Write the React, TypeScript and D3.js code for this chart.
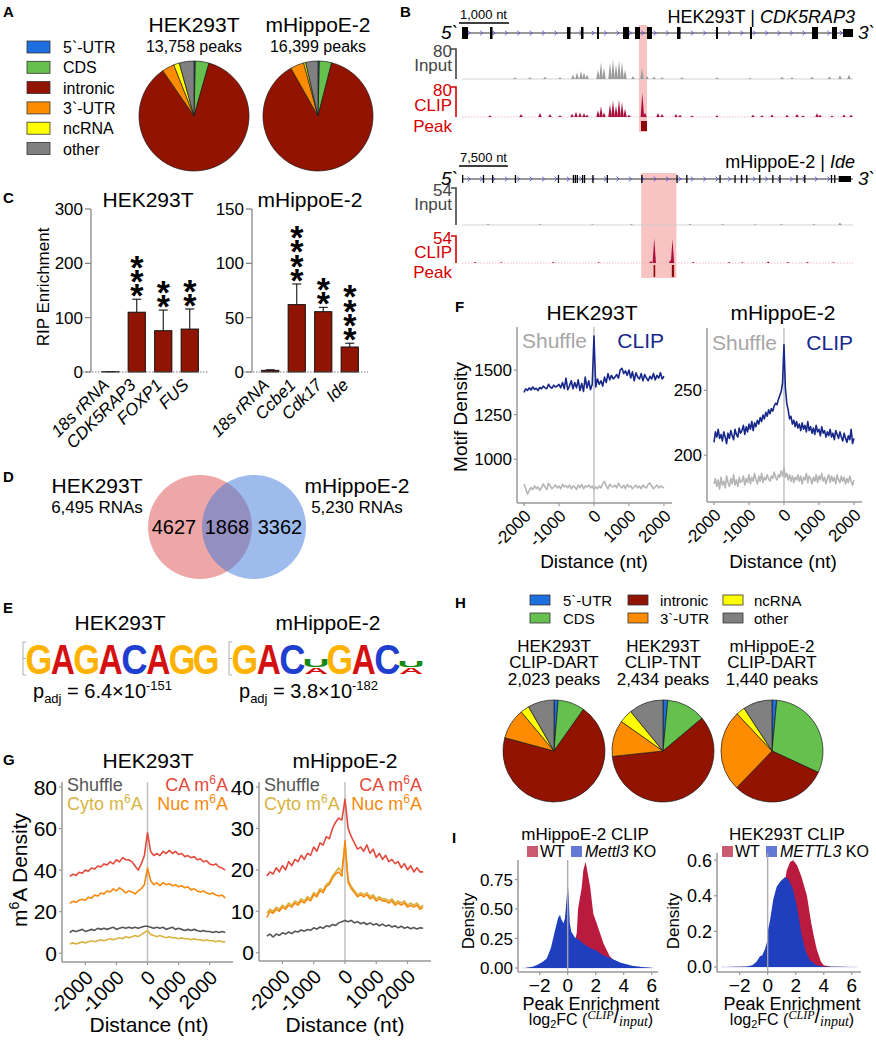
import React from "react";
import * as d3 from "d3";

const FF = "'Liberation Sans', Arial, Helvetica, sans-serif";
const SERIF = "'Liberation Serif', 'DejaVu Serif', serif";

// ---------------- Panel A / H : genomic regions ----------------
const regionNames = ["5`-UTR", "CDS", "intronic", "3`-UTR", "ncRNA", "other"];
const regionColors = ["#1d6fe0", "#66c04e", "#921300", "#ff8c00", "#ffff00", "#808080"];
const pieATitles = ["HEK293T", "mHippoE-2"];
const pieAPeaks = ["13,758 peaks", "16,399 peaks"];
const pieAHEK = [0.4, 4.0, 86.0, 3.6, 1.7, 4.3];
const pieAMHippo = [0.4, 3.6, 87.8, 4.0, 0.6, 3.6];

const pieHTitles1 = ["HEK293T", "HEK293T", "mHippoE-2"];
const pieHTitles2 = ["CLIP-DART", "CLIP-TNT", "CLIP-DART"];
const pieHPeaks = ["2,023 peaks", "2,434 peaks", "1,440 peaks"];
const pieHDartHEK = [1.3, 8.5, 69.4, 9.7, 2.8, 8.3];
const pieHTntHEK = [1.5, 12.4, 59.4, 11.5, 4.3, 10.9];
const pieHDartMH = [1.5, 30.4, 30.3, 25.8, 2.8, 9.2];

// ---------------- Panel B : genome tracks ----------------
const b1Cell = "HEK293T";
const b1Gene = "CDK5RAP3";
const b1Len = 7820;
const b1ScaleNt = 1000;
const b1ScaleLabel = "1,000 nt";
const b1Max = 80;
const b1Exons = [[0, 120, 12], [560, 50, 12], [2100, 70, 12], [2380, 50, 12], [2700, 40, 12], [3220, 120, 12], [3460, 100, 12], [3700, 100, 12], [4300, 70, 12], [5080, 40, 12], [5760, 40, 12], [7000, 120, 12], [7400, 100, 12], [7620, 200, 8]];
const b1Input = [[1060, 4], [1360, 5], [1660, 6], [1960, 5], [2220, 12], [2300, 18], [2380, 22], [2440, 18], [2500, 12], [2720, 25], [2780, 45], [2840, 30], [2960, 44], [3020, 52], [3080, 40], [3140, 50], [3200, 46], [3260, 25], [3420, 8], [3600, 29], [3700, 8], [3840, 6], [4000, 5], [4400, 5], [5100, 4], [5760, 3], [6400, 6], [6600, 5], [7000, 6], [7350, 7], [7560, 10], [7740, 12]];
const b1Clip = [[560, 5], [1180, 8], [1560, 11], [1760, 8], [1960, 5], [2200, 9], [2280, 14], [2360, 12], [2440, 10], [2500, 6], [2720, 18], [2780, 29], [2840, 12], [2960, 35], [3020, 44], [3080, 30], [3140, 47], [3200, 40], [3260, 22], [3340, 6], [3607, 65], [3660, 12], [3920, 11], [4000, 8], [4280, 8], [4360, 6], [4600, 4], [5100, 5], [5820, 6], [6000, 5], [6200, 7], [6500, 6], [6700, 8], [6820, 5], [7100, 10], [7160, 6], [7400, 4], [7640, 7], [7780, 6]];
const b1Peaks = [[3580, 120]];
const b1Highlight = [3540, 3700];

const b2Cell = "mHippoE-2";
const b2Gene = "Ide";
const b2Len = 60000;
const b2ScaleNt = 7500;
const b2ScaleLabel = "7,500 nt";
const b2Max = 54;
const b2Exons = [[0, 150, 8], [3200, 150, 8], [4600, 150, 8], [8100, 150, 8], [14700, 150, 8], [17000, 150, 8], [17300, 150, 8], [17600, 150, 8], [18400, 150, 8], [18700, 150, 8], [20000, 150, 8], [22200, 150, 8], [27500, 150, 8], [32900, 150, 8], [34400, 150, 8], [39500, 150, 8], [41800, 150, 8], [42800, 150, 8], [43600, 150, 8], [45600, 150, 8], [47600, 150, 8], [48700, 150, 8], [51300, 150, 8], [52500, 150, 8], [56600, 150, 8], [57100, 150, 8], [57800, 1900, 6]];
const b2Input = [[4000, 1.5], [12000, 1.5], [20000, 1.2], [26000, 1.5], [35000, 1.8], [40000, 1.5], [45000, 1.2], [49000, 1.5], [54000, 1.5], [58000, 3.5]];
const b2Clip = [[2000, 2], [6000, 1.5], [14000, 2], [21000, 1.5], [29000, 4], [29500, 50], [32000, 6], [32300, 48], [35500, 2], [41000, 2], [43000, 1.5], [47000, 3], [50000, 2], [53000, 2], [57000, 1.5]];
const b2Peaks = [[29400, 250], [32200, 350]];
const b2Highlight = [27500, 32900];

// ---------------- Panel C : RIP enrichment ----------------
const ripHEKGenes = ["18s rRNA", "CDK5RAP3", "FOXP1", "FUS"];
const ripHEKMean = [0.5, 110, 76, 79];
const ripHEKSd = [0.3, 24, 38, 37];
const ripHEKStars = [0, 3, 2, 2];
const ripHEKTicks = [0, 100, 200, 300];
const ripMHGenes = ["18s rRNA", "Ccbe1", "Cdk17", "Ide"];
const ripMHMean = [1.5, 62, 55.5, 23];
const ripMHSd = [0.5, 19, 4, 3.5];
const ripMHStars = [0, 4, 2, 4];
const ripMHTicks = [0, 50, 100, 150];

// ---------------- Panel D : Venn ----------------
const vennCells = ["HEK293T", "mHippoE-2"];
const vennTotals = ["6,495 RNAs", "5,230 RNAs"];
const vennCounts = [4627, 1868, 3362];

// ---------------- Panel E : motif logos ----------------
const logoHEK = [[["G", 2]], [["A", 2]], [["G", 2]], [["A", 2]], [["C", 2]], [["A", 2]], [["G", 2]], [["G", 2]]];
const logoMH = [[["G", 2]], [["A", 2]], [["C", 2]], [["A", 0.45], ["U", 0.55]], [["G", 2]], [["A", 2]], [["C", 2]], [["A", 0.45], ["U", 0.38]]];
const nucColors = { G: "#ffb300", A: "#d41010", C: "#1f3fd1", U: "#138a13" };
const padjHEK = ["6.4", "-151"];
const padjMH = ["3.8", "-182"];

// ---------------- Panel F : motif density ----------------
const fHEKDist = d3.range(-2000, 2001, 50);
const fHEKClip = [1375, 1395, 1385, 1400, 1388, 1405, 1392, 1398, 1385, 1402,
  1395, 1410, 1400, 1395, 1420, 1405, 1398, 1415, 1405, 1410,
  1420, 1400, 1430, 1395, 1455, 1390, 1410, 1440, 1395, 1430,
  1400, 1445, 1385, 1425, 1380, 1460, 1400, 1440, 1390, 1420,
  1690,
  1405, 1450, 1420, 1440, 1410, 1460, 1430, 1480, 1445, 1470,
  1450, 1460, 1475, 1455, 1500, 1510, 1480, 1495, 1470, 1500,
  1455, 1490, 1440, 1485, 1460, 1450, 1480, 1440, 1475, 1455,
  1440, 1465, 1450, 1480, 1445, 1470, 1455, 1485, 1450, 1465];
const fHEKShuffle = [860, 835, 805, 825, 842, 830, 850, 836, 845, 826,
  840, 862, 845, 830, 866, 850, 835, 845, 856, 840,
  850, 835, 860, 845, 852, 840, 855, 835, 850, 845,
  830, 856, 840, 860, 835, 850, 845, 856, 840, 850,
  832,
  845, 835, 850, 840, 862, 876, 850, 835, 860, 848,
  845, 855, 840, 866, 850, 840, 855, 835, 860, 845,
  850, 835, 845, 855, 840, 850, 835, 855, 845, 840,
  860, 868, 850, 835, 845, 855, 840, 850, 845, 838];
const fMHDist = d3.range(-2000, 2001, 40);
const fMHClip = [210, 218, 214, 220, 213, 216, 211, 218, 214, 209, 217, 213, 219, 215, 212, 220, 216, 214, 221, 217,
  219, 223, 216, 222, 218, 224, 220, 226, 219, 225,
  222, 227, 224, 229, 226, 231, 228, 233, 230, 235,
  232, 236, 234, 238, 240, 239, 243, 246, 249, 256,
  285,
  252, 240, 235, 228, 230, 224, 227, 222, 226, 221,
  224, 219, 225, 220, 223, 218, 226, 219, 222, 217,
  221, 216, 223, 218, 220, 215, 222, 217, 219, 214,
  218, 215, 220, 214, 217, 212, 219, 216, 213, 218,
  214, 211, 217, 213, 210, 215, 212, 220, 209, 213];
const fMHShuffle = [178, 182, 176, 181, 174, 183, 177, 180, 175, 184, 179, 176, 182, 178, 185, 177, 181, 176, 183, 179,
  180, 184, 177, 182, 179, 185, 178, 183, 180, 186,
  181, 178, 184, 180, 186, 179, 183, 181, 185, 182,
  180, 184, 182, 187, 183, 181, 185, 183, 188, 184,
  190,
  183, 186, 181, 185, 180, 184, 179, 183, 181, 185,
  180, 184, 178, 183, 181, 186, 179, 184, 182, 178,
  183, 180, 185, 179, 184, 181, 186, 180, 183, 178,
  182, 185, 179, 184, 180, 183, 178, 185, 181, 179,
  184, 180, 183, 178, 182, 179, 184, 180, 177, 181];
const fTicks = [-2000, -1000, 0, 1000, 2000];

// ---------------- Panel G : m6A density ----------------
const gDist = d3.range(-2500, 2501, 100);
const gHEKCA = [37, 38, 37.5, 39, 38.5, 40, 39.5, 41, 40.5, 42, 41.5, 43, 42.5, 44, 43, 45, 44, 46, 45, 45, 44, 42, 40, 43, 47,
  58,
  49, 47, 48, 47, 49, 48, 49.5, 48, 49, 47.5, 48, 46.5, 47, 46, 46.5, 45, 45.5, 44, 44.5, 43, 42.5, 43, 41.5, 41, 40];
const gHEKNuc = [24, 25, 24.5, 25.5, 26, 25.5, 27, 26.5, 28, 27.5, 29, 28.5, 30, 29.5, 31, 30, 31.5, 30.5, 29, 30, 29.5, 28.5, 30, 31, 33,
  41,
  35, 33, 34, 32.5, 34, 33, 33.5, 32.5, 33, 32, 32.5, 31.5, 32, 30.5, 31, 30, 29.5, 30, 29, 28.5, 29, 28, 27.5, 28, 26.5];
const gHEKShuffle = [10, 11, 10.5, 11, 11.5, 10.5, 11, 11.5, 11, 12, 11.5, 12, 11.5, 12, 12.5, 11.5, 12, 12.5, 12, 12.5, 12, 12.5, 12, 12.5, 13,
  13,
  12.5, 12, 12.5, 12, 12.5, 11.5, 12, 12.5, 11.5, 12, 11.5, 11, 11.5, 11, 11.5, 11, 10.5, 11, 10.5, 10.5, 10, 10.5, 10, 10.5, 10];
const gHEKCyto = [4.5, 5, 4.5, 5, 5.5, 5, 5.5, 6, 5.5, 6, 6.5, 6, 6.5, 7, 6.5, 7, 7.5, 7, 8, 7.5, 8, 8.5, 8, 9, 10,
  11,
  9, 8.5, 8, 8.5, 8, 7.5, 8, 7.5, 7.5, 7, 7.5, 7, 7, 6.5, 7, 6.5, 6.5, 6, 6.5, 6, 6, 5.5, 6, 5.5, 5.5];
const gMHCA = [18.5, 19.5, 19, 20.5, 19.5, 21, 20, 22, 21, 22.5, 22, 23.5, 22.5, 24, 23.5, 25.5, 24.5, 26.5, 26, 28, 27.5, 30, 31.5, 32.5, 32,
  37,
  30, 28, 26.5, 25, 25.5, 24.5, 26, 24, 25, 23, 24, 22.5, 23.5, 22, 22.5, 21.5, 22, 20.5, 21.5, 20, 21, 19.5, 20.5, 19.5, 19.5];
const gMHNuc = [8.5, 10, 9.5, 10.5, 10, 11, 10.5, 11.5, 11, 12, 11.5, 12.5, 12, 13, 12.5, 14, 13.5, 15, 14.5, 16, 16.5, 18, 19, 19.5, 18.5,
  27,
  17, 15.5, 14.5, 13.5, 14, 13.5, 14, 13, 13.5, 12.5, 13, 12.5, 12.5, 12, 12.5, 11.5, 12, 11.5, 12, 11, 11.5, 11, 11.5, 10.5, 11];
const gMHCyto = [9.5, 10.5, 10, 11, 10.5, 11.5, 11, 12, 11.5, 12.5, 12, 13, 12.5, 13.5, 13, 14.5, 14, 15.5, 15, 16.5, 17, 18.5, 19.5, 20.5, 19.5,
  26,
  17.5, 16, 15, 14, 14.5, 14, 14.5, 13.5, 14, 13, 13.5, 13, 13, 12.5, 13, 12, 12.5, 12, 12.5, 11.5, 12, 11.5, 12, 11, 11.5];
const gMHShuffle = [4, 4.5, 3.8, 4.5, 4.2, 4.8, 4.5, 5, 4.6, 5.2, 5, 5.5, 5.2, 5.6, 5.4, 6, 5.7, 6.2, 5.9, 6.5, 6.3, 6.8, 6.6, 7.2, 7.5,
  7.8,
  7.5, 7.8, 7.2, 7.5, 7, 7.3, 6.8, 7.2, 6.7, 7, 6.5, 6.9, 6.4, 6.7, 6.2, 6.5, 6, 6.4, 5.9, 6.2, 5.8, 6.1, 5.7, 6, 5.9];
const gTicks = [-2000, -1000, 0, 1000, 2000];
const gColors = { CA: "#e34a3b", Nuc: "#f5890d", Cyto: "#d8b443", Shuffle: "#555555" };

// ---------------- Panel I : peak enrichment densities ----------------
const iLKOx = [-3, -2.5, -2.2, -1.8, -1.5, -1.2, -1.0, -0.8, -0.67, -0.55, -0.45, -0.3, -0.2, -0.1, 0, 0.07, 0.15, 0.25, 0.5, 0.8, 1.2, 1.6, 2.0, 2.5, 3.2, 3.8, 4.6, 5.3, 6.0];
const iLKOy = [0.003, 0.01, 0.025, 0.05, 0.08, 0.17, 0.27, 0.37, 0.43, 0.45, 0.41, 0.38, 0.42, 0.55, 0.72, 0.6, 0.38, 0.31, 0.26, 0.24, 0.2, 0.17, 0.15, 0.11, 0.077, 0.045, 0.02, 0.008, 0.002];
const iLWTx = [-3, -1, 0, 0.4, 0.65, 0.74, 0.88, 1.0, 1.12, 1.28, 1.4, 1.6, 1.83, 2.07, 2.55, 3.0, 3.5, 4.0, 5.0, 6.0];
const iLWTy = [0, 0.005, 0.05, 0.15, 0.3, 0.5, 0.6, 0.68, 0.83, 0.9, 0.82, 0.69, 0.46, 0.38, 0.21, 0.1, 0.04, 0.015, 0.003, 0];
const iRKOx = [-3, -1.5, -1.1, -0.8, -0.55, -0.4, -0.2, -0.05, 0, 0.16, 0.4, 0.64, 0.9, 1.24, 1.5, 1.8, 2.0, 2.2, 2.4, 2.7, 3.0, 3.5, 4.0, 6.0];
const iRKOy = [0, 0.003, 0.01, 0.03, 0.06, 0.065, 0.1, 0.14, 0.2, 0.26, 0.38, 0.45, 0.48, 0.505, 0.49, 0.44, 0.37, 0.29, 0.19, 0.09, 0.04, 0.01, 0.003, 0];
const iRWTx = [-3, -1, 0, 0.5, 1.0, 1.35, 1.6, 1.83, 2.1, 2.4, 2.8, 3.1, 3.3, 3.5, 3.8, 4.0, 4.5, 6.0];
const iRWTy = [0, 0.002, 0.01, 0.08, 0.35, 0.54, 0.59, 0.6, 0.57, 0.51, 0.4, 0.25, 0.17, 0.1, 0.03, 0.01, 0.002, 0];
const iTicks = [-2, 0, 2, 4, 6];
const iColors = { WT: "#bb1a3f", KO: "#1f3fbf", WTkey: "#c95a70", KOkey: "#6479d4" };

// ======================================================================
const PL = ({ x, y, t }) => (
  <text x={x} y={y} fontSize={15} fontWeight="bold">{t}</text>
);

function Pie({ cx, cy, r, values }) {
  const arcs = d3.pie().sort(null).value((d) => d)(values);
  const arc = d3.arc().innerRadius(0).outerRadius(r);
  return (
    <g transform={`translate(${cx},${cy})`}>
      {arcs.map((a, i) => (
        <path key={i} d={arc(a)} fill={regionColors[i]} stroke="#1a1a1a" strokeWidth={0.7} strokeLinejoin="round" />
      ))}
    </g>
  );
}

function PanelA() {
  const vals = [pieAHEK, pieAMHippo];
  const cxs = [194, 318];
  return (
    <g>
      <PL x={3} y={17} t="A" />
      {regionNames.map((n, i) => {
        const cy = 47 + i * 20.3;
        return (
          <g key={n}>
            <rect x={27} y={cy - 6} width={23} height={12} fill={regionColors[i]} stroke="#333" strokeWidth={0.8} />
            <text x={63} y={cy + 6} fontSize={16}>{n}</text>
          </g>
        );
      })}
      {vals.map((v, i) => (
        <g key={i}>
          <text x={cxs[i]} y={32} fontSize={21} textAnchor="middle">{pieATitles[i]}</text>
          <text x={cxs[i]} y={52} fontSize={16} textAnchor="middle">{pieAPeaks[i]}</text>
          <Pie cx={cxs[i]} cy={116} r={55} values={v} />
        </g>
      ))}
    </g>
  );
}

function GeneTrack({ len, scaleNt, scaleLabel, cell, gene, maxVal, exons, inputB, clipB, peaks, highlight, hw, L }) {
  const x = d3.scaleLinear().domain([0, len]).range([462, 853]);
  const yIn = d3.scaleLinear().domain([0, maxVal]).range([L.inBot, L.inTop]);
  const yCl = d3.scaleLinear().domain([0, maxVal]).range([L.clBot, L.clTop]);
  const bump = (b, ys) =>
    d3.area().x((d) => x(d[0])).y0(ys(0)).y1((d) => ys(d[1]))([[b[0] - hw, 0], [b[0], b[1]], [b[0] + hw, 0]]);
  const chev = d3.range(469, 850, 12.4);
  const gy = L.geneY;
  return (
    <g>
      <rect x={x(highlight[0])} y={L.hlTop} width={x(highlight[1]) - x(highlight[0])} height={L.hlBot - L.hlTop} fill="#f8c3c3" />
      <line x1={459} x2={459 + x(scaleNt) - x(0)} y1={L.scaleY} y2={L.scaleY} stroke="#000" strokeWidth={1.5} />
      <text x={460} y={L.scaleY - 4} fontSize={13}>{scaleLabel}</text>
      <text x={855} y={L.titleY} textAnchor="end" fontSize={18}>
        {cell} | <tspan fontStyle="italic">{gene}</tspan>
      </text>
      <text x={458} y={gy + 6} textAnchor="end" fontSize={19} fontStyle="italic">5`</text>
      <text x={858} y={gy + 6} fontSize={19} fontStyle="italic">3`</text>
      <line x1={462} x2={853} y1={gy} y2={gy} stroke="#333" strokeWidth={1.1} />
      {chev.map((c, i) => (
        <path key={i} d={`M${c - 1.3},${gy - 2.3}L${c + 1.3},${gy}L${c - 1.3},${gy + 2.3}`} fill="none" stroke="#4f4ff0" strokeWidth={0.9} />
      ))}
      {exons.map((e, i) => (
        <rect key={i} x={x(e[0])} y={gy - e[2] / 2} width={Math.max(1.3, x(e[0] + e[1]) - x(e[0]))} height={e[2]} fill="#000" />
      ))}
      <text x={452} y={L.lab[0]} textAnchor="end" fontSize={17} fill="#444">{maxVal}</text>
      <text x={452} y={L.lab[1]} textAnchor="end" fontSize={17} fill="#444">Input</text>
      <path d={`M451,${L.inTop}H456V${L.inBot}`} fill="none" stroke="#444" strokeWidth={1.6} />
      <line x1={462} x2={853} y1={L.inBot} y2={L.inBot} stroke="#c8c8c8" strokeWidth={0.8} />
      {inputB.map((b, i) => <path key={i} d={bump(b, yIn)} fill="#9b9b9b" />)}
      <text x={452} y={L.lab[2]} textAnchor="end" fontSize={17} fill="#d40000">{maxVal}</text>
      <text x={452} y={L.lab[3]} textAnchor="end" fontSize={17} fill="#d40000">CLIP</text>
      <text x={452} y={L.lab[4]} textAnchor="end" fontSize={17} fill="#d40000">Peak</text>
      <path d={`M451,${L.clTop}H456V${L.clBot}`} fill="none" stroke="#d40000" strokeWidth={1.6} />
      <line x1={462} x2={853} y1={L.clBot} y2={L.clBot} stroke="#e8a8b8" strokeWidth={0.8} strokeDasharray="1.5,1.5" />
      {clipB.map((b, i) => <path key={i} d={bump(b, yCl)} fill="#a8103e" />)}
      {peaks.map((p, i) => (
        <rect key={i} x={x(p[0])} y={L.pkTop} width={Math.max(1.2, x(p[0] + p[1]) - x(p[0]))} height={L.pkBot - L.pkTop} fill="#8e0a0a" />
      ))}
    </g>
  );
}

function PanelB() {
  const L1 = { scaleY: 23, titleY: 23, geneY: 33, inTop: 49, inBot: 79, clTop: 87, clBot: 117, pkTop: 121, pkBot: 131, hlTop: 25, hlBot: 132, lab: [57, 71, 96, 111, 132] };
  const L2 = { scaleY: 166, titleY: 168, geneY: 179, inTop: 188, inBot: 225, clTop: 236, clBot: 263, pkTop: 265, pkBot: 277, hlTop: 173, hlBot: 278, lab: [196, 210, 244, 258, 278] };
  return (
    <g>
      <PL x={400} y={17} t="B" />
      <GeneTrack len={b1Len} scaleNt={b1ScaleNt} scaleLabel={b1ScaleLabel} cell={b1Cell} gene={b1Gene} maxVal={b1Max}
        exons={b1Exons} inputB={b1Input} clipB={b1Clip} peaks={b1Peaks} highlight={b1Highlight} hw={35} L={L1} />
      <GeneTrack len={b2Len} scaleNt={b2ScaleNt} scaleLabel={b2ScaleLabel} cell={b2Cell} gene={b2Gene} maxVal={b2Max}
        exons={b2Exons} inputB={b2Input} clipB={b2Clip} peaks={b2Peaks} highlight={b2Highlight} hw={260} L={L2} />
    </g>
  );
}

function BarChart({ genes, means, sds, stars, ticks, axisX, xRange, title, titleX }) {
  const y = d3.scaleLinear().domain([0, ticks[ticks.length - 1]]).range([372, 209]);
  const x = d3.scaleBand().domain(genes).range(xRange).paddingInner(0.35).paddingOuter(0.175);
  const bw = x.bandwidth();
  return (
    <g>
      <text x={titleX} y={207} fontSize={21} textAnchor="middle">{title}</text>
      <line x1={axisX} x2={axisX} y1={y(ticks[ticks.length - 1])} y2={y(0)} stroke="#888" strokeWidth={1.3} />
      {ticks.map((t) => (
        <g key={t}>
          <line x1={axisX - 6} x2={axisX} y1={y(t)} y2={y(t)} stroke="#888" strokeWidth={1.3} />
          <text x={axisX - 8} y={y(t) + 6} fontSize={17} textAnchor="end">{t}</text>
        </g>
      ))}
      {genes.map((g, i) => {
        const cx = x(g) + bw / 2;
        const top = y(means[i] + sds[i]);
        return (
          <g key={g}>
            <rect x={x(g)} y={y(means[i])} width={bw} height={y(0) - y(means[i])} fill="#8f1402" stroke="#111" strokeWidth={1} />
            <line x1={cx} x2={cx} y1={y(means[i])} y2={top} stroke="#111" strokeWidth={1.1} />
            <line x1={cx - 4.5} x2={cx + 4.5} y1={top} y2={top} stroke="#111" strokeWidth={1.1} />
            {d3.range(stars[i]).map((k) => (
              <text key={k} x={cx} y={top - 11 - k * 14.3 + 19} fontSize={34} fontWeight="bold" textAnchor="middle">*</text>
            ))}
            <text transform={`translate(${cx},${386}) rotate(-45)`} fontSize={17} fontStyle="italic" textAnchor="end">{g}</text>
          </g>
        );
      })}
      <line x1={axisX - 8} x2={xRange[1] + 5} y1={y(0)} y2={y(0)} stroke="#777" strokeWidth={1} strokeDasharray="1.5,1.5" />
    </g>
  );
}

function PanelC() {
  return (
    <g>
      <PL x={3} y={203} t="C" />
      <text transform="translate(49,287) rotate(-90)" fontSize={17} textAnchor="middle">RIP Enrichment</text>
      <BarChart genes={ripHEKGenes} means={ripHEKMean} sds={ripHEKSd} stars={ripHEKStars} ticks={ripHEKTicks} axisX={91} xRange={[97, 203]} title="HEK293T" titleX={148} />
      <BarChart genes={ripMHGenes} means={ripMHMean} sds={ripMHSd} stars={ripMHStars} ticks={ripMHTicks} axisX={252} xRange={[257, 363]} title="mHippoE-2" titleX={310} />
    </g>
  );
}

function PanelD() {
  return (
    <g>
      <PL x={3} y={482} t="D" />
      <circle cx={200} cy={527} r={52} fill="rgba(220,80,80,0.5)" />
      <circle cx={254} cy={527} r={52} fill="rgba(60,120,220,0.5)" />
      <text x={97} y={493} fontSize={21} textAnchor="middle">{vennCells[0]}</text>
      <text x={97} y={513} fontSize={17} textAnchor="middle">{vennTotals[0]}</text>
      <text x={357} y={493} fontSize={21} textAnchor="middle">{vennCells[1]}</text>
      <text x={357} y={513} fontSize={17} textAnchor="middle">{vennTotals[1]}</text>
      {vennCounts.map((c, i) => (
        <text key={i} x={[174, 227, 280][i]} y={534} fontSize={20} textAnchor="middle">{c}</text>
      ))}
    </g>
  );
}

const glyphW = { G: 68, A: 70, C: 64, U: 62 };
function Logo({ cols, x0, x1, yBot, hFull }) {
  const x = d3.scaleBand().domain(d3.range(cols.length)).range([x0, x1]);
  const h = d3.scaleLinear().domain([0, 2]).range([0, hFull]);
  const cw = x.bandwidth();
  return (
    <g>
      <path d={`M${x0 - 1},${yBot - hFull - 1}h-3V${yBot + 1}h3M${x0 - 4},${yBot - hFull / 2}h3`} fill="none" stroke="#999" strokeWidth={0.8} />
      {cols.map((col, i) => {
        let base = yBot;
        return col.map((c, j) => {
          const hh = h(c[1]);
          const yb = base;
          base -= hh;
          const sx = (cw - 0.5) / glyphW[c[0]];
          const sy = hh / 72;
          return (
            <g key={i + "-" + j} transform={`translate(${x(i) + cw / 2},${yb}) scale(${sx},${sy})`}>
              <text x={0} y={0} fontSize={100} fontWeight="bold" textAnchor="middle" fill={nucColors[c[0]]}>{c[0]}</text>
            </g>
          );
        });
      })}
    </g>
  );
}

function Padj({ x, v }) {
  return (
    <text x={x} y={698} fontSize={20}>
      p<tspan fontSize={13} dy={5}>adj</tspan>
      <tspan dy={-5}> = {v[0]}×10</tspan>
      <tspan fontSize={13} dy={-8}>{v[1]}</tspan>
    </text>
  );
}

function PanelE() {
  return (
    <g>
      <PL x={3} y={613} t="E" />
      <text x={120} y={630} fontSize={21} textAnchor="middle">HEK293T</text>
      <text x={328} y={630} fontSize={21} textAnchor="middle">mHippoE-2</text>
      <Logo cols={logoHEK} x0={27} x1={218} yBot={674} hFull={31} />
      <Logo cols={logoMH} x0={233} x1={423} yBot={674} hFull={31} />
      <Padj x={33} v={padjHEK} />
      <Padj x={239} v={padjMH} />
    </g>
  );
}

function Axes({ x, y, xTicks, yTicks, yFs, xl, color = "#999" }) {
  const [x0, x1] = x.range();
  const [y0, y1] = y.range();
  return (
    <g>
      <line x1={x0} x2={x0} y1={y1} y2={y0} stroke={color} strokeWidth={1.5} />
      <line x1={x0} x2={x1} y1={y0} y2={y0} stroke={color} strokeWidth={1.5} />
      {yTicks.map((t) => (
        <g key={t}>
          <line x1={x0 - 3} x2={x0} y1={y(t)} y2={y(t)} stroke={color} strokeWidth={1.2} />
          <text x={x0 - 5} y={y(t) + yFs * 0.36} fontSize={yFs} textAnchor="end">{xl.yfmt ? xl.yfmt(t) : t}</text>
        </g>
      ))}
      {xTicks.map((t) => (
        <g key={t}>
          <line x1={x(t)} x2={x(t)} y1={y0} y2={y0 + 3} stroke={color} strokeWidth={1.2} />
          {xl.rot ? (
            <text transform={`translate(${x(t) + xl.dx},${y0 + xl.dy}) rotate(-45)`} fontSize={xl.fs} textAnchor="end">{t}</text>
          ) : (
            <text x={x(t)} y={y0 + xl.dy} fontSize={xl.fs} textAnchor="middle">{xl.fmt(t)}</text>
          )}
        </g>
      ))}
    </g>
  );
}

function LinePlot({ xDom, xR, yDom, yR, yTicks, xTicks, yFs, xl, series }) {
  const x = d3.scaleLinear().domain(xDom).range(xR);
  const y = d3.scaleLinear().domain(yDom).range(yR);
  return (
    <g>
      <line x1={x(0)} x2={x(0)} y1={yR[1]} y2={yR[0]} stroke="#bdbdbd" strokeWidth={1.4} />
      {series.map((s, i) => (
        <path key={i} d={d3.line().x((d) => x(d[0])).y((d) => y(d[1]))(s.v.map((v, k) => [s.d[k], v]))} fill="none" stroke={s.c} strokeWidth={1.6} strokeLinejoin="round" />
      ))}
      <Axes x={x} y={y} xTicks={xTicks} yTicks={yTicks} yFs={yFs} xl={xl} />
    </g>
  );
}

function PanelF() {
  const xl = { rot: true, dx: 8, dy: 14, fs: 17 };
  return (
    <g>
      <PL x={455} y={312} t="F" />
      <text x={592} y={320} fontSize={21} textAnchor="middle">HEK293T</text>
      <text x={783} y={320} fontSize={21} textAnchor="middle">mHippoE-2</text>
      <text transform="translate(467,417) rotate(-90)" fontSize={19} textAnchor="middle">Motif Density</text>
      <LinePlot xDom={[-2200, 2230]} xR={[517, 672]} yDom={[755, 1741]} yR={[503, 327]} yTicks={[1000, 1250, 1500]} xTicks={fTicks} yFs={17} xl={xl}
        series={[{ d: fHEKDist, v: fHEKShuffle, c: "#b5b5b5" }, { d: fHEKDist, v: fHEKClip, c: "#17288a" }]} />
      <LinePlot xDom={[-2200, 2230]} xR={[707, 862]} yDom={[164, 298]} yR={[502, 328]} yTicks={[200, 250]} xTicks={fTicks} yFs={17} xl={xl}
        series={[{ d: fMHDist, v: fMHShuffle, c: "#b5b5b5" }, { d: fMHDist, v: fMHClip, c: "#17288a" }]} />
      <text x={522} y={348} fontSize={21} fill="#a6a6a6">Shuffle</text>
      <text x={664} y={348} fontSize={21} fill="#17288a" textAnchor="end">CLIP</text>
      <text x={712} y={350} fontSize={21} fill="#a6a6a6">Shuffle</text>
      <text x={853} y={350} fontSize={21} fill="#17288a" textAnchor="end">CLIP</text>
      <text x={594} y={568} fontSize={19} textAnchor="middle">Distance (nt)</text>
      <text x={783} y={568} fontSize={19} textAnchor="middle">Distance (nt)</text>
    </g>
  );
}

const M6A = ({ pre }) => (
  <>
    {pre}m<tspan fontSize={12} dy={-7}>6</tspan><tspan dy={7}>A</tspan>
  </>
);

function GLegend({ xl, xr }) {
  return (
    <g fontSize={18}>
      <text x={xl} y={791} fill={gColors.Shuffle}>Shuffle</text>
      <text x={xr} y={791} fill={gColors.CA} textAnchor="end"><M6A pre="CA " /></text>
      <text x={xl} y={810} fill={gColors.Cyto}><M6A pre="Cyto " /></text>
      <text x={xr} y={810} fill={gColors.Nuc} textAnchor="end"><M6A pre="Nuc " /></text>
    </g>
  );
}

function PanelG() {
  const xl = { rot: true, dx: 9, dy: 17, fs: 20 };
  const mk = (sh, cy, nu, ca) => [
    { d: gDist, v: sh, c: gColors.Shuffle },
    { d: gDist, v: cy, c: gColors.Cyto },
    { d: gDist, v: nu, c: gColors.Nuc },
    { d: gDist, v: ca, c: gColors.CA },
  ];
  return (
    <g>
      <PL x={3} y={765} t="G" />
      <text x={148} y={768} fontSize={21} textAnchor="middle">HEK293T</text>
      <text x={345} y={768} fontSize={21} textAnchor="middle">mHippoE-2</text>
      <text transform="translate(27,870) rotate(-90)" fontSize={21} textAnchor="middle">
        m<tspan fontSize={14} dy={-8}>6</tspan><tspan dy={8}>A Density</tspan>
      </text>
      <LinePlot xDom={[-2750, 2750]} xR={[62, 233]} yDom={[-4.2, 82.4]} yR={[962, 782]} yTicks={[0, 20, 40, 60, 80]} xTicks={gTicks} yFs={21} xl={xl}
        series={mk(gHEKShuffle, gHEKCyto, gHEKNuc, gHEKCA)} />
      <LinePlot xDom={[-2750, 2750]} xR={[259, 431]} yDom={[-2, 41.2]} yR={[961, 782]} yTicks={[0, 10, 20, 30, 40]} xTicks={gTicks} yFs={21} xl={xl}
        series={mk(gMHShuffle, gMHCyto, gMHNuc, gMHCA)} />
      <GLegend xl={67} xr={228} />
      <GLegend xl={264} xr={422} />
      <text x={149} y={1032} fontSize={21} textAnchor="middle">Distance (nt)</text>
      <text x={345} y={1032} fontSize={21} textAnchor="middle">Distance (nt)</text>
    </g>
  );
}

function PanelH() {
  const cols = [[530, 563], [628, 660], [723, 754]];
  const order = [[0, 2, 4], [1, 3, 5]];
  const pies = [pieHDartHEK, pieHTntHEK, pieHDartMH];
  const cxs = [554, 663, 772];
  return (
    <g>
      <PL x={455} y={608} t="H" />
      {order.map((row, r) =>
        row.map((k, c) => {
          const cy = 600 + r * 18;
          return (
            <g key={k}>
              <rect x={cols[c][0]} y={cy - 5} width={20} height={10} fill={regionColors[k]} stroke="#333" strokeWidth={0.8} />
              <text x={cols[c][1]} y={cy + 5.5} fontSize={15}>{regionNames[k]}</text>
            </g>
          );
        })
      )}
      {pies.map((v, i) => (
        <g key={i}>
          <text x={cxs[i]} y={652} fontSize={17} textAnchor="middle">{pieHTitles1[i]}</text>
          <text x={cxs[i]} y={668} fontSize={17} textAnchor="middle">{pieHTitles2[i]}</text>
          <text x={cxs[i]} y={685} fontSize={17} textAnchor="middle">{pieHPeaks[i]}</text>
          <Pie cx={cxs[i]} cy={751} r={51} values={v} />
        </g>
      ))}
    </g>
  );
}

function DensityPlot({ xDom, xR, yDom, yR, yTicks, yFmt, yFs, wt, ko, title, koName, titleX, legX }) {
  const x = d3.scaleLinear().domain(xDom).range(xR);
  const y = d3.scaleLinear().domain(yDom).range(yR);
  const area = (xs, ys) => d3.area().x((d) => x(d[0])).y0(y(0)).y1((d) => y(d[1]))(xs.map((v, i) => [v, ys[i]]));
  const xl = { rot: false, dy: 20, fs: 19, fmt: (t) => (t < 0 ? "\u2212" + Math.abs(t) : String(t)), yfmt: yFmt };
  return (
    <g>
      <text x={titleX} y={840} fontSize={17} textAnchor="middle">{title}</text>
      <rect x={legX} y={846} width={11} height={11} fill={iColors.WTkey} />
      <text x={legX + 13} y={857} fontSize={16}>WT</text>
      <rect x={legX + 44} y={846} width={11} height={11} fill={iColors.KOkey} />
      <text x={legX + 58} y={857} fontSize={16}><tspan fontStyle="italic">{koName}</tspan> KO</text>
      <line x1={xR[0] + 4} x2={xR[1] - 4} y1={y(0)} y2={y(0)} stroke="#d6dbef" strokeWidth={1.2} />
      <path d={area(wt[0], wt[1])} fill={iColors.WT} />
      <path d={area(ko[0], ko[1])} fill={iColors.KO} />
      <line x1={x(0)} x2={x(0)} y1={yR[1]} y2={yR[0]} stroke="#a8a8a8" strokeWidth={1.3} />
      <Axes x={x} y={y} xTicks={iTicks} yTicks={yTicks} yFs={yFs} xl={xl} />
      <text x={(xR[0] + xR[1]) / 2 + 3} y={1010} fontSize={18} textAnchor="middle">Peak Enrichment</text>
      <text x={(xR[0] + xR[1]) / 2 + 3} y={1025} fontSize={16} textAnchor="middle">
        log<tspan fontSize={11} dy={3}>2</tspan><tspan dy={-3}>FC (</tspan>
        <tspan fontFamily={SERIF} fontStyle="italic" fontSize={12} dy={-6}>CLIP</tspan>
        <tspan fontSize={20} dy={4}>/</tspan>
        <tspan fontFamily={SERIF} fontStyle="italic" fontSize={14} dy={3}>input</tspan>
        <tspan dy={-1}>)</tspan>
      </text>
    </g>
  );
}

function PanelI() {
  return (
    <g>
      <PL x={452} y={843} t="I" />
      <text transform="translate(474,921) rotate(-90)" fontSize={17} textAnchor="middle">Density</text>
      <text transform="translate(679,921) rotate(-90)" fontSize={17} textAnchor="middle">Density</text>
      <DensityPlot xDom={[-3.55, 6.45]} xR={[518, 658]} yDom={[-0.034, 0.915]} yR={[972, 860]} yTicks={[0, 0.25, 0.5, 0.75]}
        yFmt={(t) => t.toFixed(2)} yFs={17} wt={[iLWTx, iLWTy]} ko={[iLKOx, iLKOy]} title="mHippoE-2 CLIP" koName="Mettl3" titleX={585} legX={527} />
      <DensityPlot xDom={[-3.62, 6.66]} xR={[717, 861]} yDom={[-0.028, 0.64]} yR={[972, 853]} yTicks={[0, 0.2, 0.4, 0.6]}
        yFmt={(t) => t.toFixed(1)} yFs={18} wt={[iRWTx, iRWTy]} ko={[iRKOx, iRKOy]} title="HEK293T CLIP" koName="METTL3" titleX={787} legX={722} />
    </g>
  );
}

export default function App() {
  return (
    <svg width={876} height={1041} viewBox="0 0 876 1041" fontFamily={FF}
      style={{ position: "absolute", left: 0, top: 0, display: "block", background: "#fff" }}>
      <rect width={876} height={1041} fill="#fff" />
      <PanelA />
      <PanelB />
      <PanelC />
      <PanelD />
      <PanelE />
      <PanelF />
      <PanelG />
      <PanelH />
      <PanelI />
    </svg>
  );
}
